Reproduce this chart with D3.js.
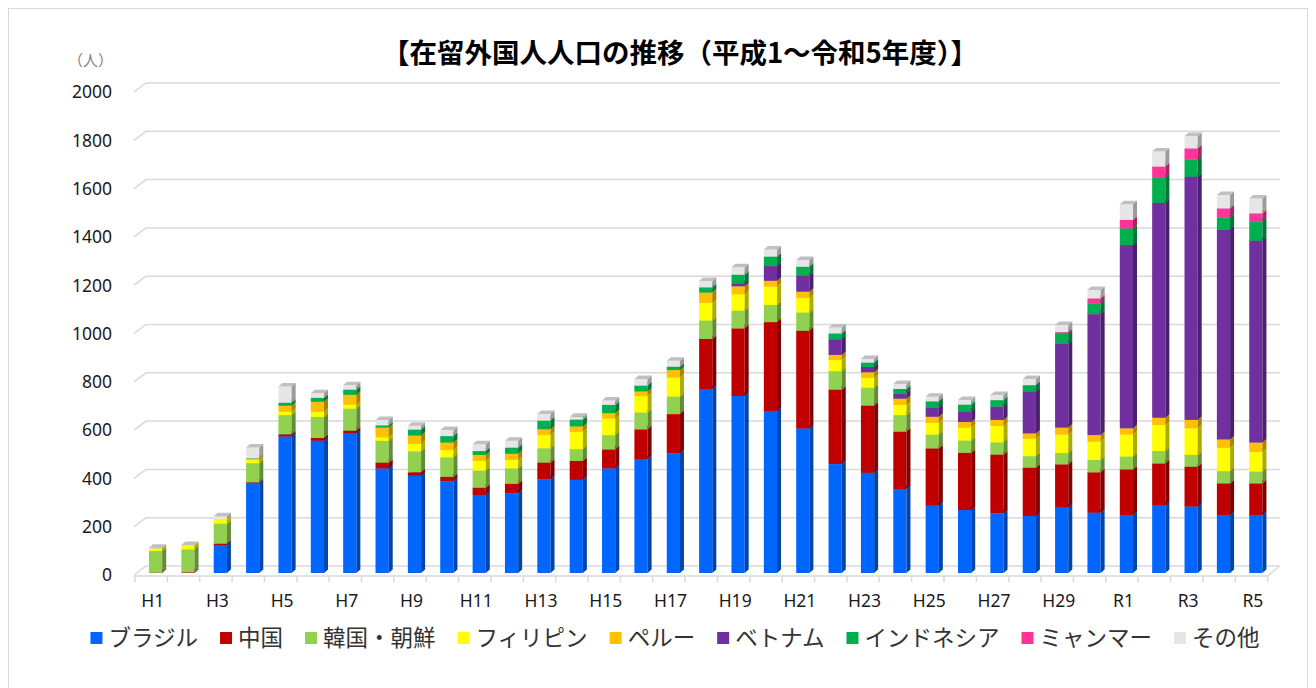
<!DOCTYPE html>
<html>
<head>
<meta charset="utf-8">
<script src="https://cdn.jsdelivr.net/npm/d3@7"></script>
<style>
  body { margin: 0; background: #fff; }
  text { font-family: "Noto Sans", "Noto Sans CJK JP", sans-serif; }
  .jp { font-family: "Noto Sans CJK JP", sans-serif; }
</style>
</head>
<body>
<div id="chart-container"></div>
<script>
// categories (fiscal years)
const years = ["H1","H2","H3","H4","H5","H6","H7","H8","H9","H10",
  "H11","H12","H13","H14","H15","H16","H17","H18","H19","H20",
  "H21","H22","H23","H24","H25","H26","H27","H28","H29","H30",
  "R1","R2","R3","R4","R5"];

const seriesNames = ["ブラジル","中国","韓国・朝鮮","フィリピン","ペルー","ベトナム","インドネシア","ミャンマー","その他"];

const brazil = [0,0,116,371,565,548,578,433,403,380,323,330,388,386,433,472,496,762,733,671,598,451,415,348,279,261,247,236,271,250,240,279,275,240,240];
const china = [1,3,5,4,9,11,11,24,14,18,30,39,69,78,79,123,162,207,280,368,405,308,278,237,237,236,243,200,179,167,189,175,165,131,131];
const korea = [90,95,83,80,80,87,91,90,87,81,71,64,59,49,59,69,72,76,73,71,75,77,74,69,57,51,51,48,47,51,53,51,49,51,49];
const philippines = [10,16,17,14,14,22,17,15,30,30,40,35,55,72,69,69,80,74,68,76,62,46,42,42,49,54,68,72,76,76,92,108,110,97,82];
const peru = [0,0,0,3,25,41,41,40,35,31,25,26,24,22,22,19,31,42,33,24,25,21,22,26,25,23,25,22,29,27,25,30,35,34,38];
const vietnam = [0,0,0,0,0,0,0,0,0,0,0,0,0,0,0,0,0,0,10,61,66,65,22,21,38,44,55,174,348,501,759,890,1007,870,836];
const indonesia = [0,0,0,2,12,16,21,9,25,27,16,25,36,28,34,24,13,22,38,39,37,24,18,19,26,28,27,26,40,45,69,105,72,50,79];
const myanmar = [0,0,0,0,0,0,0,0,0,0,0,0,0,0,0,0,0,0,0,0,0,0,0,0,0,0,0,0,7,20,35,45,45,37,34];
const other = [4,2,14,46,67,19,18,23,16,25,28,29,27,12,18,27,25,26,31,30,28,25,15,21,19,19,21,25,30,35,65,62,52,55,62];

const yTicks = [0,200,400,600,800,1000,1200,1400,1600,1800,2000];

const colors = ["#0066ff","#c00000","#92d050","#ffff00","#ffc000","#7030a0","#00b050","#ff3399","#e7e6e6"];

const width = 1316, height = 688;

const svg = d3.select("#chart-container")
  .append("svg")
  .attr("width", width)
  .attr("height", height);

// outer frame
svg.append("rect")
  .attr("x", 8.5).attr("y", 8.5)
  .attr("width", 1299).attr("height", 700)
  .attr("fill", "#fff")
  .attr("stroke", "#d9d9d9");

// build table for stacking
const table = years.map((y, i) => {
  const row = { year: y };
  const cols = [brazil, china, korea, philippines, peru, vietnam, indonesia, myanmar, other];
  seriesNames.forEach((n, k) => row[n] = cols[k][i]);
  return row;
});
const stacked = d3.stack().keys(seriesNames)(table);

// scales: front floor edge, back wall and bar plane
const depthX = 12, depthY = 9;
const xScale = d3.scaleBand().domain(years).range([135, 1267.6]).padding(0);
const yFront = d3.scaleLinear().domain([0, 2000]).range([575, 92]);
const yBar = d3.scaleLinear().domain([0, 2000]).range([573, 90]);
const yBack = v => yFront(v) - depthY;

// gridlines on back wall with left wall diagonal
const grid = svg.append("g");
yTicks.forEach(t => {
  grid.append("path")
    .attr("d", `M${135 - 1},${yFront(t)} L${135 - 1 + depthX},${yBack(t)} L1280,${yBack(t)}`)
    .attr("fill", "none")
    .attr("stroke", "#d9d9d9")
    .attr("stroke-width", 1.5);
});

// floor front edge + right diagonal + ticks
svg.append("path")
  .attr("d", `M135,${yFront(0) + 1} L1267.6,${yFront(0) + 1} L${1267.6 + depthX},${yBack(0)}`)
  .attr("fill", "none").attr("stroke", "#d9d9d9").attr("stroke-width", 1.5);
svg.append("g").selectAll("line")
  .data(d3.range(years.length + 1))
  .enter().append("line")
  .attr("x1", i => 135 + i * xScale.step())
  .attr("x2", i => 135 + i * xScale.step())
  .attr("y1", yFront(0) + 1)
  .attr("y2", yFront(0) + 7)
  .attr("stroke", "#d9d9d9").attr("stroke-width", 1.5);

// y labels
svg.append("g").selectAll("text")
  .data(yTicks)
  .enter().append("text")
  .attr("x", 112)
  .attr("y", d => yFront(d) + 6.3)
  .attr("text-anchor", "end")
  .attr("font-size", 17.5)
  .attr("fill", "#1a1a1a")
  .text(d => d);

svg.append("text")
  .attr("class", "jp")
  .attr("x", 113).attr("y", 66)
  .attr("text-anchor", "end")
  .attr("font-size", 15)
  .attr("fill", "#808080")
  .text("（人）");

// x labels (every other year)
svg.append("g").selectAll("text")
  .data(years.filter((d, i) => i % 2 === 0))
  .enter().append("text")
  .attr("x", d => xScale(d) + xScale.bandwidth() / 2 + 1.5)
  .attr("y", 607)
  .attr("text-anchor", "middle")
  .attr("font-size", 17.5)
  .attr("fill", "#1a1a1a")
  .text(d => d);

// 3D bars
const barW = 13.2, barOff = 14, dx = 4, dy = 3.5;
const bars = svg.append("g");
stacked.forEach((layer, k) => {
  const c = d3.color(colors[k]);
  const side = c.darker(1.1).formatHex();
  const top = c.darker(0.5).formatHex();
  layer.forEach((d, i) => {
    if (d[1] - d[0] <= 0) return;
    const x = xScale(years[i]) + barOff;
    const y0 = yBar(d[0]), y1 = yBar(d[1]);
    const g = bars.append("g");
    g.append("rect")
      .attr("x", x).attr("y", y1)
      .attr("width", barW).attr("height", y0 - y1)
      .attr("fill", colors[k]);
    g.append("path")
      .attr("d", `M${x + barW},${y1} L${x + barW + dx},${y1 - dy} L${x + barW + dx},${y0 - dy} L${x + barW},${y0} Z`)
      .attr("fill", side);
    g.append("path")
      .attr("d", `M${x},${y1} L${x + dx},${y1 - dy} L${x + barW + dx},${y1 - dy} L${x + barW},${y1} Z`)
      .attr("fill", top);
  });
});

// title
svg.append("text")
  .attr("class", "jp")
  .attr("x", 680).attr("y", 63)
  .attr("text-anchor", "middle")
  .attr("font-size", 27.5)
  .attr("font-weight", "bold")
  .attr("fill", "#000")
  .text("【在留外国人人口の推移（平成1～令和5年度）】");

// legend
const legend = svg.append("g");
let lx = 0;
const gap = 22;
seriesNames.forEach((n, k) => {
  const item = legend.append("g").attr("transform", `translate(${lx},0)`);
  item.append("rect")
    .attr("x", 0).attr("y", 632)
    .attr("width", 12).attr("height", 12)
    .attr("fill", colors[k]);
  const t = item.append("text")
    .attr("class", "jp")
    .attr("x", 18).attr("y", 646)
    .attr("font-size", 22.5)
    .attr("fill", "#333")
    .text(n);
  lx += 18 + t.node().getComputedTextLength() + gap;
});
const legendW = lx - gap;
legend.attr("transform", `translate(${675 - legendW / 2},0)`);
</script>
</body>
</html>
